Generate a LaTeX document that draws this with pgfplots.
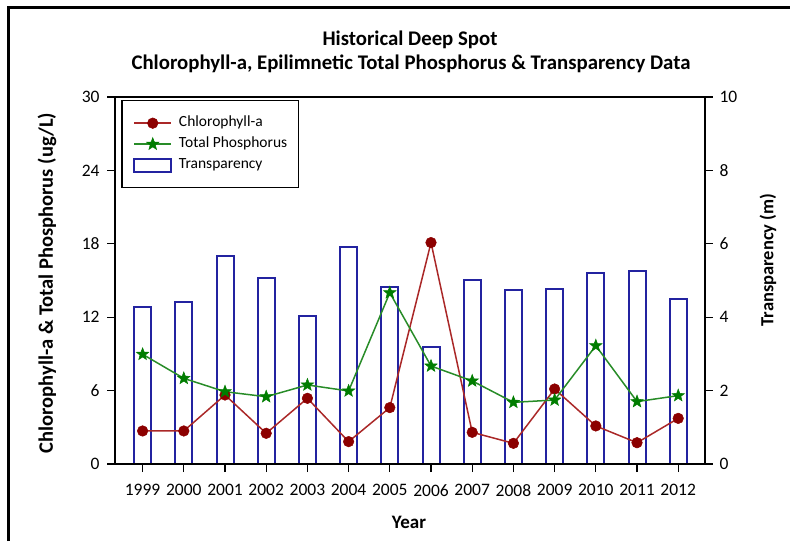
\documentclass[border=0pt]{standalone}
\usepackage{pgfplots}
\pgfplotsset{compat=1.18}
\usepackage{fontspec}
\setmainfont{Carlito}
\definecolor{chlred}{RGB}{140,0,0}
\definecolor{chlline}{RGB}{170,40,40}
\definecolor{tpgreen}{RGB}{0,125,0}
\definecolor{tpline}{RGB}{40,140,40}
\definecolor{barblue}{RGB}{35,35,160}

\pgfdeclareplotmark{fstar}{%
 \pgfpathmoveto{\pgfpointpolar{90}{\pgfplotmarksize}}%
 \pgfpathlineto{\pgfpointpolar{126}{0.42\pgfplotmarksize}}%
 \pgfpathlineto{\pgfpointpolar{162}{\pgfplotmarksize}}%
 \pgfpathlineto{\pgfpointpolar{198}{0.42\pgfplotmarksize}}%
 \pgfpathlineto{\pgfpointpolar{234}{\pgfplotmarksize}}%
 \pgfpathlineto{\pgfpointpolar{270}{0.42\pgfplotmarksize}}%
 \pgfpathlineto{\pgfpointpolar{306}{\pgfplotmarksize}}%
 \pgfpathlineto{\pgfpointpolar{342}{0.42\pgfplotmarksize}}%
 \pgfpathlineto{\pgfpointpolar{18}{\pgfplotmarksize}}%
 \pgfpathlineto{\pgfpointpolar{54}{0.42\pgfplotmarksize}}%
 \pgfpathclose
 \pgfusepathqfillstroke
}

\pgfplotstableread{
year trans chl tp
1999 4.29 2.70 8.97
2000 4.41 2.70 7.00
2001 5.68 5.64 5.91
2002 5.06 2.51 5.50
2003 4.04 5.37 6.46
2004 5.92 1.83 5.97
2005 4.83 4.61 14.00
2006 3.20 18.10 8.01
2007 5.01 2.59 6.79
2008 4.74 1.69 5.04
2009 4.76 6.13 5.23
2010 5.21 3.11 9.67
2011 5.26 1.74 5.10
2012 4.50 3.73 5.59
}\datatable

\begin{document}
\begin{tikzpicture}
\path[use as bounding box] (0pt,0pt) rectangle (790pt,541pt);
\draw[line width=2.5pt] (8.5pt,0pt) -- (8.5pt,533.5pt) -- (790pt,533.5pt);

% right axis with bars
\begin{axis}[
  at={(115pt,77pt)}, anchor=south west, scale only axis,
  width=590pt, height=367pt,
  xmin=1998.33, xmax=2012.65, ymin=0, ymax=10,
  axis x line=none, axis y line*=right,
  ytick={0,2,...,10},
  tick align=outside, major tick length=8pt,
  y axis line style={line width=1.5pt,-},
  ytick style={line width=1.2pt, black},
  tick label style={font=\fontsize{17.5}{20}\selectfont},
  yticklabel style={xshift=3pt},
  /pgf/number format/assume math mode=true,
]
\addplot[ybar, bar width=17pt, draw=barblue, fill=white, line width=2pt]
  table[x=year,y=trans] {\datatable};
\end{axis}

% left axis with lines
\begin{axis}[
  at={(115pt,77pt)}, anchor=south west, scale only axis,
  width=590pt, height=367pt,
  xmin=1998.33, xmax=2012.65, ymin=0, ymax=30,
  xtick={1999,2000,...,2012}, ytick={0,6,...,30},
  xtick pos=left, ytick pos=left,
  tick align=outside, major tick length=8pt,
  axis line style={line width=1.5pt},
  tick style={line width=1.2pt, black},
  tick label style={font=\fontsize{17.5}{20}\selectfont},
  yticklabel style={xshift=-4pt},
  xticklabel style={yshift=-9pt},
  /pgf/number format/assume math mode=true,
  x tick label style={/pgf/number format/1000 sep={}},
  legend style={at={(0.011,0.992)}, anchor=north west, draw=black, line width=1.5pt,
    font=\fontsize{15.5}{18}\selectfont, cells={anchor=west},
    nodes={inner sep=0pt, text height=11pt, text depth=4pt},
    inner xsep=11pt, inner ysep=15pt, row sep=6pt},
  legend image code/.code={%
    \draw[mark repeat=2,mark phase=2,#1] plot coordinates {(0pt,0pt) (18.5pt,0pt) (37pt,0pt)};
    \path (44pt,0pt);},
]
\addplot[color=chlline, line width=1.5pt, mark=*, mark size=5.3pt,
  mark options={fill=chlred, draw=chlred, line width=0.5pt}]
  table[x=year,y=chl] {\datatable};
\addlegendentry{Chlorophyll-a}
\addplot[color=tpline, line width=1.5pt, mark=fstar, mark size=6.5pt,
  mark options={fill=tpgreen, draw=tpgreen, line width=0.5pt}]
  table[x=year,y=tp] {\datatable};
\addlegendentry{Total Phosphorus\hspace{5pt}}
\addlegendimage{legend image code/.code={%
  \draw[draw=barblue,fill=white,line width=2pt] (0pt,-6.5pt) rectangle (37pt,6.5pt);
  \path (44pt,0pt);}}
\addlegendentry{Transparency}
\end{axis}

\node[font=\bfseries\fontsize{20.8}{24}\selectfont] at (410pt,501pt) {Historical Deep Spot};
\node[font=\bfseries\fontsize{20.8}{24}\selectfont] at (411pt,477pt) {Chlorophyll-a, Epilimnetic Total Phosphorus \& Transparency Data};
\node[font=\bfseries\fontsize{20.5}{23}\selectfont, rotate=90] at (47pt,258pt) {Chlorophyll-a \& Total Phosphorus (ug/L)};
\node[font=\bfseries\fontsize{18.5}{22}\selectfont, rotate=90] at (768pt,281pt) {Transparency (m)};
\node[font=\bfseries\fontsize{19}{22}\selectfont] at (409pt,19pt) {Year};
\end{tikzpicture}
\end{document}
